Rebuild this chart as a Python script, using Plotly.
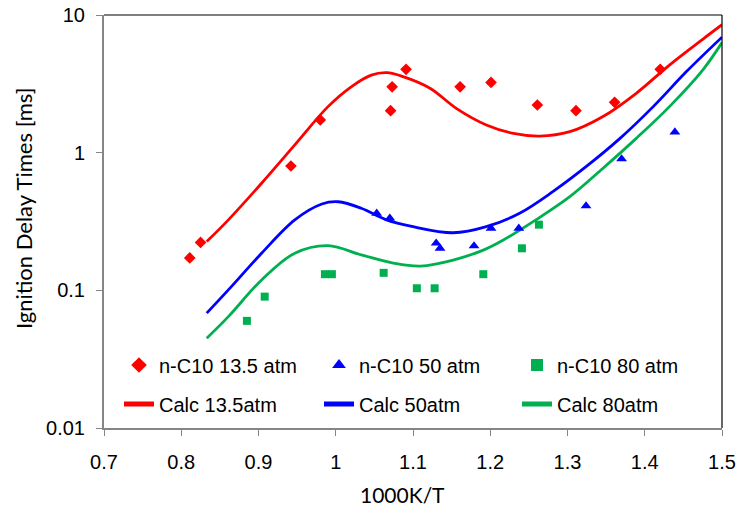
import plotly.graph_objects as go

# ---- data ----
x_exp135 = [0.811, 0.825, 0.942, 0.980, 1.071, 1.073, 1.091, 1.161, 1.201, 1.261, 1.311, 1.361, 1.420]
y_exp135 = [0.172, 0.223, 0.80, 1.73, 2.02, 3.01, 4.03, 3.01, 3.24, 2.22, 2.02, 2.32, 4.03]

x_exp50 = [1.053, 1.070, 1.130, 1.135, 1.179, 1.201, 1.237, 1.324, 1.370, 1.439]
y_exp50 = [0.363, 0.334, 0.220, 0.202, 0.210, 0.282, 0.282, 0.410, 0.90, 1.41]

x_exp80 = [0.885, 0.908, 0.986, 0.995, 1.062, 1.105, 1.128, 1.191, 1.241, 1.263]
y_exp80 = [0.060, 0.090, 0.131, 0.131, 0.134, 0.1035, 0.1035, 0.131, 0.202, 0.300]

x_calc135 = [0.833, 0.861, 0.904, 0.947, 0.990, 1.020, 1.046, 1.066, 1.087, 1.122, 1.156, 1.195, 1.230, 1.264, 1.303, 1.346, 1.389, 1.432, 1.475, 1.500]
y_calc135 = [0.226, 0.325, 0.60, 1.14, 2.16, 3.01, 3.66, 3.81, 3.57, 2.94, 2.10, 1.59, 1.38, 1.32, 1.42, 1.83, 2.70, 4.33, 6.66, 8.5]

x_calc50 = [0.833, 0.861, 0.904, 0.947, 0.982, 1.003, 1.033, 1.064, 1.100, 1.152, 1.195, 1.238, 1.281, 1.324, 1.368, 1.411, 1.454, 1.500]
y_calc50 = [0.0683, 0.1007, 0.186, 0.325, 0.424, 0.44, 0.395, 0.328, 0.290, 0.262, 0.29, 0.363, 0.521, 0.791, 1.27, 2.16, 3.88, 6.9]

x_calc80 = [0.833, 0.861, 0.904, 0.947, 0.990, 1.033, 1.076, 1.110, 1.152, 1.191, 1.217, 1.259, 1.303, 1.346, 1.389, 1.432, 1.475, 1.500]
y_calc80 = [0.0449, 0.0644, 0.119, 0.186, 0.211, 0.181, 0.157, 0.150, 0.166, 0.196, 0.232, 0.325, 0.479, 0.771, 1.27, 2.16, 3.98, 6.3]

x_tickvals = [0.7, 0.8, 0.9, 1.0, 1.1, 1.2, 1.3, 1.4, 1.5]
x_ticktext = ["0.7", "0.8", "0.9", "1", "1.1", "1.2", "1.3", "1.4", "1.5"]
y_tickvals = [0.01, 0.1, 1, 10]
y_ticktext = ["0.01", "0.1", "1", "10"]

RED = "#FF0000"
BLUE = "#0000FF"
GREEN = "#00B050"
GRAY = "#868686"
FONT = "Liberation Sans, Arial, sans-serif"
TFONT = "Lato, Open Sans, sans-serif"

W, H = 740, 508
L, R, T, B = 104, 18, 15, 80
PW, PH = W - L - R, H - T - B

fig = go.Figure()

def px_x(p):
    return (p - L) / PW

def px_y(p):
    return (H - B - p) / PH

row1, row2 = 365, 404
cols = [139, 339, 537]

traces = [
    dict(x=x_exp135, y=y_exp135, name="n-C10 13.5 atm", mode="markers",
         marker=dict(symbol="diamond", size=9, color=RED), pos=(cols[0], row1)),
    dict(x=x_exp50, y=y_exp50, name="n-C10 50 atm", mode="markers",
         marker=dict(symbol="triangle-up", size=9.5, color=BLUE), pos=(cols[1], row1)),
    dict(x=x_exp80, y=y_exp80, name="n-C10 80 atm", mode="markers",
         marker=dict(symbol="square", size=8, color=GREEN), pos=(cols[2], row1)),
    dict(x=x_calc135, y=y_calc135, name="Calc 13.5atm", mode="lines",
         line=dict(color=RED, width=2.8, shape="spline"), pos=(cols[0], row2)),
    dict(x=x_calc50, y=y_calc50, name="Calc 50atm", mode="lines",
         line=dict(color=BLUE, width=2.8, shape="spline"), pos=(cols[1], row2)),
    dict(x=x_calc80, y=y_calc80, name="Calc 80atm", mode="lines",
         line=dict(color=GREEN, width=2.8, shape="spline"), pos=(cols[2], row2)),
]

# draw lines first so markers are on top
order = [3, 4, 5, 0, 1, 2]
legend_layout = {}
for idx in order:
    t = dict(traces[idx])
    pos = t.pop("pos")
    lname = "legend" if idx == 0 else f"legend{idx + 1}"
    fig.add_trace(go.Scatter(**t, legend=lname, showlegend=True))
    legend_layout[lname] = dict(
        x=px_x(pos[0] - 20), y=px_y(pos[1]), xanchor="left", yanchor="middle",
        bgcolor="rgba(0,0,0,0)", borderwidth=0,
        font=dict(family=FONT, size=20, color="black"),
        tracegroupgap=0, itemsizing="constant",
    )

fig.update_layout(
    width=W, height=H,
    margin=dict(l=L, r=R, t=T, b=B, autoexpand=False),
    paper_bgcolor="white", plot_bgcolor="white",
    showlegend=True,
    **legend_layout,
    xaxis=dict(
        range=[0.7, 1.5], tickvals=x_tickvals, ticktext=x_ticktext,
        showgrid=False, zeroline=False,
        showline=True, linecolor=GRAY, linewidth=2,
        ticks="outside", ticklen=6, tickcolor=GRAY, tickwidth=1,
        tickfont=dict(family=FONT, size=20, color="black"),
        ticklabelstandoff=9, automargin=False,
    ),
    yaxis=dict(
        type="log", range=[-2, 1], tickvals=y_tickvals, ticktext=y_ticktext,
        showgrid=False, zeroline=False,
        showline=True, linecolor=GRAY, linewidth=2,
        ticks="outside", ticklen=6, tickcolor=GRAY, tickwidth=1,
        tickfont=dict(family=FONT, size=20, color="black"),
        ticklabelstandoff=7, automargin=False,
    ),
    shapes=[
        dict(type="line", xref="paper", yref="paper", x0=0, x1=1, y0=1, y1=1,
             line=dict(color="black", width=1.2)),
        dict(type="line", xref="paper", yref="paper", x0=1, x1=1, y0=0, y1=1,
             line=dict(color="black", width=1.2)),
    ],
    annotations=[
        dict(text="1000K/T", xref="paper", yref="paper",
             x=px_x(402), y=px_y(495), xanchor="center", yanchor="middle",
             showarrow=False, font=dict(family=TFONT, size=21, color="black")),
        dict(text="Ignition Delay Times [ms]", xref="paper", yref="paper",
             x=px_x(23), y=px_y(209), xanchor="center", yanchor="middle",
             textangle=-90, showarrow=False,
             font=dict(family=TFONT, size=22, color="black")),
    ],
)

fig.write_html("out.html", config={"displayModeBar": False},
               post_script="document.body.style.margin='0';document.body.style.overflow='hidden';")
